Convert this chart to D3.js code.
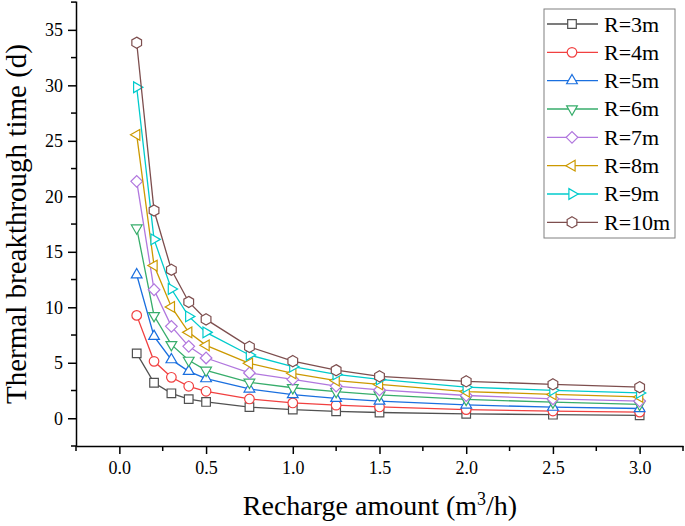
<!DOCTYPE html>
<html>
<head>
<meta charset="utf-8">
<script src="https://cdn.jsdelivr.net/npm/d3@7"></script>
<style>
  body { margin: 0; background: #fff; }
  svg text { font-family: "Liberation Serif", serif !important; }
</style>
</head>
<body>
<svg id="chart" width="685" height="526"></svg>
<script>
// recharge amount (m3/h)
const recharge = [0.1, 0.2, 0.3, 0.4, 0.5, 0.75, 1.0, 1.25, 1.5, 2.0, 2.5, 3.0];

// thermal breakthrough time (d) per well spacing R
const r3  = [5.85, 3.2, 2.25, 1.72, 1.47, 1.0, 0.78, 0.62, 0.52, 0.4, 0.32, 0.26];
const r4  = [9.27, 5.13, 3.69, 2.88, 2.43, 1.74, 1.38, 1.18, 1.02, 0.78, 0.65, 0.55];
const r5  = [12.93, 7.38, 5.28, 4.23, 3.57, 2.64, 2.13, 1.8, 1.55, 1.2, 1.0, 0.88];
const r6  = [17.14, 9.24, 6.63, 5.22, 4.32, 3.24, 2.75, 2.4, 2.1, 1.7, 1.45, 1.25];
const r7  = [21.35, 11.58, 8.28, 6.48, 5.43, 4.08, 3.5, 2.9, 2.55, 2.05, 1.75, 1.55];
const r8  = [25.54, 13.76, 10.03, 7.74, 6.57, 4.95, 4.05, 3.4, 3.05, 2.4, 2.15, 1.92];
const r9  = [29.83, 16.12, 11.65, 9.18, 7.74, 5.7, 4.65, 3.95, 3.5, 2.8, 2.52, 2.28];
const r10 = [33.84, 18.72, 13.38, 10.48, 8.91, 6.43, 5.15, 4.33, 3.78, 3.33, 3.06, 2.8];

const seriesNames = ['R=3m', 'R=4m', 'R=5m', 'R=6m', 'R=7m', 'R=8m', 'R=9m', 'R=10m'];
const seriesValues = [r3, r4, r5, r6, r7, r8, r9, r10];
const colors = ['#515151', '#F14040', '#1A6FDF', '#37AD6B', '#B177DE', '#CC9900', '#00CBCC', '#7D4E4E'];
const shapes = ['square', 'circle', 'up', 'down', 'diamond', 'left', 'right', 'hexagon'];

const xTicks = [0, 0.5, 1, 1.5, 2, 2.5, 3];
const yTicks = [0, 5, 10, 15, 20, 25, 30, 35];

const svg = d3.select('#chart');
const x = d3.scaleLinear().domain([-0.25, 3.25]).range([76, 683]);
const y = d3.scaleLinear().domain([-2.5, 37.6]).range([446, 1]);

// marker path around (0,0)
function markerPath(shape) {
  const poly = (n, r, rot) => {
    const pts = d3.range(n).map(i => {
      const a = rot + i * 2 * Math.PI / n;
      return [r * Math.cos(a), r * Math.sin(a)];
    });
    return 'M' + pts.map(p => p[0].toFixed(2) + ',' + p[1].toFixed(2)).join('L') + 'Z';
  };
  switch (shape) {
    case 'square': return 'M-4.3,-4.3H4.3V4.3H-4.3Z';
    case 'circle': return 'M4.8,0A4.8,4.8 0 1,1 -4.8,0A4.8,4.8 0 1,1 4.8,0Z';
    case 'up': return poly(3, 6.2, -Math.PI / 2);
    case 'down': return poly(3, 6.2, Math.PI / 2);
    case 'left': return poly(3, 6.2, Math.PI);
    case 'right': return poly(3, 6.2, 0);
    case 'diamond': return poly(4, 5.8, 0);
    case 'hexagon': return poly(6, 5.6, -Math.PI / 2);
  }
}

// axes
const yAxis = svg.append('g')
  .attr('transform', 'translate(76,0)')
  .call(d3.axisLeft(y).tickValues(yTicks).tickFormat(d3.format('d')).tickSize(8).tickPadding(5).tickSizeOuter(0));
const xAxis = svg.append('g')
  .attr('transform', 'translate(0,446)')
  .call(d3.axisBottom(x).tickValues(xTicks).tickFormat(d3.format('.1f')).tickSize(8).tickPadding(7).tickSizeOuter(0));

[xAxis, yAxis].forEach(g => {
  g.attr('font-family', null).attr('font-size', null);
  g.select('.domain').attr('stroke', '#000').attr('stroke-width', 1.5);
  g.selectAll('.tick line').attr('stroke', '#000').attr('stroke-width', 1.5);
  g.selectAll('.tick text').style('font-size', '18px').attr('fill', '#000');
});

// minor ticks
const yMinor = d3.range(-2.5, 37.6, 5);
svg.append('g').selectAll('line').data(yMinor).join('line')
  .attr('x1', 76).attr('x2', 71)
  .attr('y1', d => y(d)).attr('y2', d => y(d))
  .attr('stroke', '#000').attr('stroke-width', 1.5);
const xMinor = [-0.25, 0.25, 0.75, 1.25, 1.75, 2.25, 2.75, 3.25];
svg.append('g').selectAll('line').data(xMinor).join('line')
  .attr('x1', d => x(d)).attr('x2', d => x(d))
  .attr('y1', 446).attr('y2', 451)
  .attr('stroke', '#000').attr('stroke-width', 1.5);

// series
const line = d3.line().x((d, i) => x(recharge[i])).y(d => y(d));
seriesValues.forEach((vals, s) => {
  const g = svg.append('g');
  g.append('path')
    .attr('d', line(vals))
    .attr('fill', 'none')
    .attr('stroke', colors[s])
    .attr('stroke-width', 1.3);
  g.selectAll('path.mk').data(vals).join('path')
    .attr('class', 'mk')
    .attr('d', markerPath(shapes[s]))
    .attr('transform', (d, i) => `translate(${x(recharge[i])},${y(d)})`)
    .attr('fill', '#fff')
    .attr('stroke', colors[s])
    .attr('stroke-width', 1.2);
});

// titles
svg.append('text')
  .attr('x', 380).attr('y', 515)
  .attr('text-anchor', 'middle')
  .style('font-size', '28px')
  .html('Recharge amount (m<tspan dy="-10" style="font-size:18px">3</tspan><tspan dy="10">/h)</tspan>');
svg.append('text')
  .attr('transform', 'translate(26,224) rotate(-90)')
  .attr('text-anchor', 'middle')
  .style('font-size', '29px')
  .text('Thermal breakthrough time (d)');

// legend
const legend = svg.append('g');
legend.append('rect')
  .attr('x', 544).attr('y', 9).attr('width', 131).attr('height', 229)
  .attr('fill', '#fff').attr('stroke', '#808080').attr('stroke-width', 1);
seriesNames.forEach((name, s) => {
  const cy = 24 + s * 28.33;
  legend.append('line')
    .attr('x1', 547).attr('x2', 598).attr('y1', cy).attr('y2', cy)
    .attr('stroke', colors[s]).attr('stroke-width', 1.3);
  legend.append('path')
    .attr('d', markerPath(shapes[s]))
    .attr('transform', `translate(572,${cy})`)
    .attr('fill', '#fff').attr('stroke', colors[s]).attr('stroke-width', 1.2);
  legend.append('text')
    .attr('x', 604).attr('y', cy + 7.5)
    .style('font-size', '22px')
    .text(name);
});
</script>
</body>
</html>
